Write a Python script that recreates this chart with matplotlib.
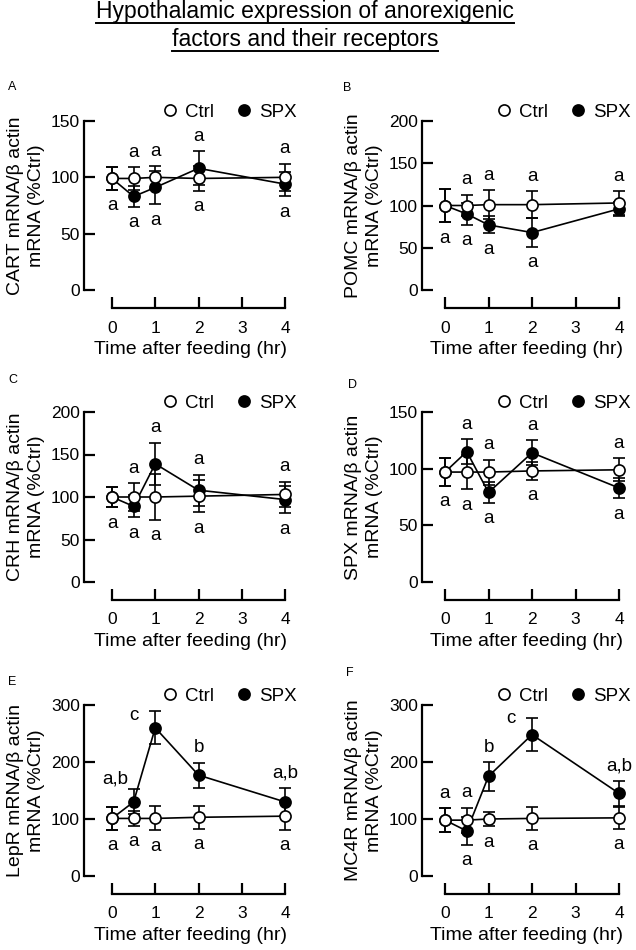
import numpy as np
import matplotlib
matplotlib.use("Agg")
import matplotlib.pyplot as plt
from matplotlib.lines import Line2D

plt.rcParams['font.family'] = ['Liberation Sans', 'DejaVu Sans']

W, H = 636, 950

times = [0, 0.5, 1, 2, 4]

genes = ["CART", "POMC", "CRH", "SPX", "LepR", "MC4R"]
panel_tags = ["A", "B", "C", "D", "E", "F"]
ymax = [150, 200, 200, 150, 300, 300]
ystep = [50, 50, 50, 50, 100, 100]

ctrl_mean = [[99, 99, 100, 99, 100],
             [100, 100, 101, 101, 103],
             [100, 100, 100, 101, 103],
             [97, 97, 97, 98, 99],
             [101, 101, 101, 103, 105],
             [98, 98, 100, 101, 102]]
ctrl_err = [[10, 10, 10, 11, 12],
            [20, 13, 17, 16, 14],
            [12, 16, 27, 19, 15],
            [12, 15, 11, 8, 10],
            [20, 13, 21, 20, 24],
            [21, 22, 13, 20, 19]]
spx_mean = [[99, 83, 91, 108, 94],
            [100, 90, 77, 68, 96],
            [100, 89, 139, 108, 97],
            [97, 115, 79, 114, 83],
            [101, 130, 260, 177, 130],
            [98, 79, 175, 248, 145]]
spx_err = [[10, 9, 15, 15, 11],
           [20, 13, 10, 17, 8],
           [12, 13, 25, 18, 16],
           [12, 11, 9, 11, 9],
           [20, 22, 29, 22, 24],
           [21, 24, 25, 29, 22]]

# significance letters above / below each time point
letters_top = [["", "a", "a", "a", "a"],
               ["", "a", "a", "a", "a"],
               ["", "a", "a", "a", "a"],
               ["", "a", "a", "a", "a"],
               ["", "a,b", "c", "b", "a,b"],
               ["a", "a", "b", "c", "a,b"]]
letters_bot = [["a", "a", "a", "a", "a"],
               ["a", "a", "a", "a", ""],
               ["a", "a", "a", "a", "a"],
               ["a", "a", "a", "a", "a"],
               ["a", "a", "a", "a", "a"],
               ["", "a", "a", "a", "a"]]

# small manual nudges (px) for letters that sit beside the line
nudge = {(4, 1): (-18, -5), (4, 2): (-21, -19), (5, 3): (-21, -15)}

# pixel layout: (spine_x, x0, x4) per column, (top, bottom) per row
cols = [(84, 112, 285), (422, 445, 619)]
rows = [(121, 290), (412, 582), (705, 876)]
tag_pos = [(8, 87), (343, 88), (8, 380), (348, 385), (8, 682), (346, 673)]

fig = plt.figure(figsize=(W / 100, H / 100), dpi=100)
px = 0.72  # points per pixel

for i, gene in enumerate(genes):
    sx, x0, x4 = cols[i % 2]
    yt, yb = rows[i // 2]
    scale = (x4 - x0) / 4.0
    xmin = -(x0 - sx) / scale
    xmax = 4 + 12 / scale
    right = x4 + 12
    ax = fig.add_axes([sx / W, 1 - yb / H, (right - sx) / W, (yb - yt) / H])
    ax.set_xlim(xmin, xmax)
    ax.set_ylim(0, ymax[i])
    ax.set_yticks(np.arange(0, ymax[i] + 1, ystep[i]))
    ax.set_xticks([0, 1, 2, 3, 4])

    for s in ["top", "right"]:
        ax.spines[s].set_visible(False)
    ax.spines["left"].set_linewidth(1.6)
    ax.spines["bottom"].set_linewidth(1.6)
    ax.spines["bottom"].set_position(("outward", 18 * px))
    ax.spines["bottom"].set_bounds(0, 4)
    ax.tick_params(axis="both", direction="in", length=8, width=1.6,
                   labelsize=12.5, colors="black")
    ax.tick_params(axis="x", pad=9)
    ax.tick_params(axis="y", pad=3)

    ax.errorbar(times, spx_mean[i], yerr=spx_err[i], fmt="-o", color="black",
                mfc="black", mec="black", ms=8, mew=1.2, lw=1.2,
                capsize=4.5, capthick=1.2, elinewidth=1.2, zorder=3)
    ax.errorbar(times, ctrl_mean[i], yerr=ctrl_err[i], fmt="-o", color="black",
                mfc="white", mec="black", ms=8, mew=1.2, lw=1.2,
                capsize=4.5, capthick=1.2, elinewidth=1.2, zorder=4)

    for j, t in enumerate(times):
        top = max(ctrl_mean[i][j] + ctrl_err[i][j], spx_mean[i][j] + spx_err[i][j])
        bot = min(ctrl_mean[i][j] - ctrl_err[i][j], spx_mean[i][j] - spx_err[i][j])
        if letters_top[i][j]:
            dx, dy = nudge.get((i, j), (0, 0))
            ax.annotate(letters_top[i][j], (t, top), xytext=(dx * px, (15 + dy) * px),
                        textcoords="offset points", ha="center", va="center",
                        fontsize=13.5)
        if letters_bot[i][j]:
            ax.annotate(letters_bot[i][j], (t, bot), xytext=(0, -16 * px),
                        textcoords="offset points", ha="center", va="center",
                        fontsize=13.5)

    ax.set_xlabel("Time after feeding (hr)", fontsize=14, labelpad=4)
    ax.set_ylabel(gene + " mRNA/β actin\nmRNA (%Ctrl)", fontsize=14,
                  linespacing=1.3, labelpad=4)

    h_ctrl = Line2D([], [], ls="none", marker="o", ms=8, mfc="white",
                    mec="black", mew=1.2)
    h_spx = Line2D([], [], ls="none", marker="o", ms=8, mfc="black",
                   mec="black", mew=1.2)
    ax.legend([h_ctrl, h_spx], ["Ctrl", "SPX"], loc="lower right",
              bbox_to_anchor=(1.0, 1.0), ncol=2, frameon=False, fontsize=13.5,
              handlelength=0.8, handletextpad=0.4, columnspacing=1.2,
              borderaxespad=0.0, borderpad=0.0)

    fig.text(tag_pos[i][0] / W, 1 - tag_pos[i][1] / H, panel_tags[i],
             fontsize=9, ha="left", va="center")

# underlined two-line title
t1 = fig.text(305 / W, 1 - 18 / H, "Hypothalamic expression of anorexigenic",
              fontsize=16.5, ha="center", va="baseline")
t2 = fig.text(305 / W, 1 - 46 / H, "factors and their receptors",
              fontsize=16.5, ha="center", va="baseline")
renderer = fig.canvas.get_renderer()
for t, uy in [(t1, 23), (t2, 51)]:
    bb = t.get_window_extent(renderer)
    fig.add_artist(Line2D([bb.x0 / W, bb.x1 / W], [1 - uy / H, 1 - uy / H],
                          transform=fig.transFigure, color="black", lw=1.4))

fig.savefig("out.png", dpi=100)
